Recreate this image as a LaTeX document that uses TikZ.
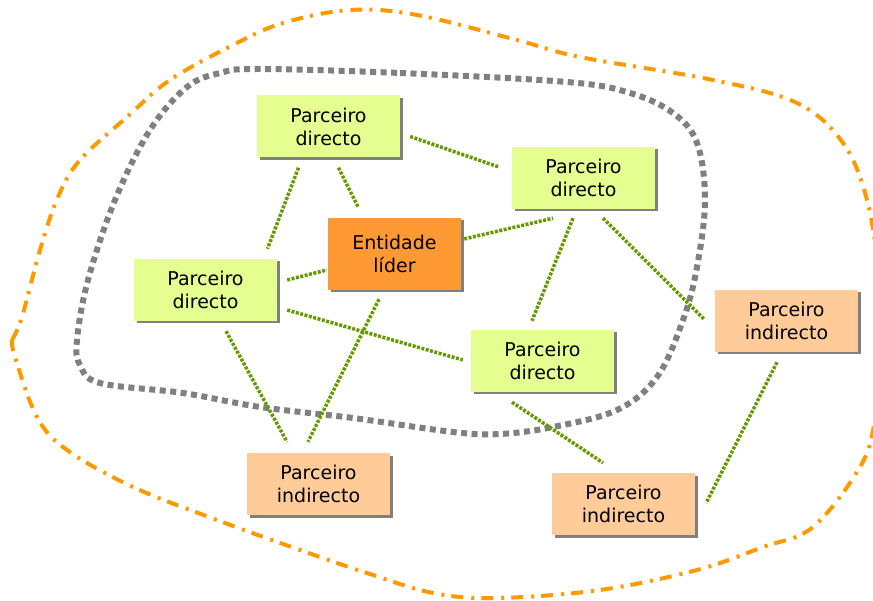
\documentclass[tikz,border=0pt]{standalone}
\usepackage{fontspec}
\setsansfont{DejaVu Sans}
\usetikzlibrary{shadows}
\definecolor{directfill}{RGB}{228,255,143}
\definecolor{indirectfill}{RGB}{255,204,153}
\definecolor{leaderfill}{RGB}{255,153,51}
\definecolor{shadowgray}{RGB}{128,128,128}
\definecolor{linkgreen}{RGB}{102,153,0}
\definecolor{coregray}{RGB}{128,128,128}
\definecolor{reachorange}{RGB}{255,153,0}
\tikzset{%
  partner/.style  = {shape=rectangle, align=center, inner sep=0pt,%
                     minimum width=143pt, minimum height=62pt,%
                     font=\sffamily\fontsize{19}{23}\selectfont,%
                     drop shadow={shadow xshift=2.5pt, shadow yshift=-2.5pt,%
                                  fill=shadowgray, opacity=1}},%
  direct/.style   = {partner, fill=directfill},%
  indirect/.style = {partner, fill=indirectfill},%
  leader/.style   = {partner, fill=leaderfill,%
                     minimum width=133pt, minimum height=72pt}%
}
\begin{document}
\begin{tikzpicture}[x=1pt, y=-1pt,
	link/.style  = {draw=linkgreen, line width=3.5pt, dash pattern=on 3pt off 1.5pt},
	core/.style  = {draw=coregray, line width=6pt, dash pattern=on 6pt off 4.5pt},
	reach/.style = {draw=reachorange, line width=4pt,
	                dash pattern=on 12pt off 7pt on 3pt off 8pt}]%
	\useasboundingbox (0,0) rectangle (873,601);
	% outer and inner circles
	\begin{scope}
	\clip (0,0) rectangle (873,601);
	\draw[reach] plot[smooth, tension=0.6] coordinates {%
		(12,340) (22,317) (40,250) (58,197) (80,160) (127,117) (170,80)
		(233,45) (283,23) (350,10) (417,15) (517,40) (580,57) (713,80)
		(797,103) (843,143) (867,200) (880,280) (884,340) (875,420)
		(860,467) (813,527) (763,547) (697,570) (600,590) (497,598)
		(433,593) (367,573) (300,550) (217,520) (133,487) (67,450)
		(37,417) (15,357) (12,340)};
	\end{scope}
	\draw[core] plot[smooth cycle, tension=0.6] coordinates {%
		(258,69) (400,73) (567,82) (630,93) (673,113) (697,143) (705,200)
		(697,267) (683,320) (657,377) (617,410) (553,427) (500,434)
		(453,432) (353,418) (260,407) (183,393) (100,383) (80,365)
		(77,340) (88,280) (115,200) (150,130) (187,87) (220,73)};
	% partners
	\node (ldr) at (394.5,254)   [leader]   {Entidade\\líder};
	\node (d1)  at (328.5,126.5) [direct]   {Parceiro\\directo};
	\node (d2)  at (583.5,178)   [direct]   {Parceiro\\directo};
	\node (d3)  at (205.5,290)   [direct]   {Parceiro\\directo};
	\node (d4)  at (542.5,361)   [direct]   {Parceiro\\directo};
	\node (i1)  at (786.5,321)   [indirect] {Parceiro\\indirecto};
	\node (i2)  at (318.5,484)   [indirect] {Parceiro\\indirecto};
	\node (i3)  at (623.5,504)   [indirect] {Parceiro\\indirecto};
	% links
	\draw[link] ([shift={(10,10)}]d1.east)     -- ([shift={(-13,-11)}]d2.west);
	\draw[link] ([shift={(-30,10)}]d1.south)   -- ([shift={(62,-10)}]d3.north);
	\draw[link] ([shift={(10,10)}]d1.south)    -- ([shift={(-36,-10)}]ldr.north);
	\draw[link] ([shift={(3,-15)}]ldr.east)    -- ([shift={(-30.5,9)}]d2.south);
	\draw[link] ([shift={(10,-10)}]d3.east)    -- ([shift={(-1,16)}]ldr.west);
	\draw[link] ([shift={(10,20)}]d3.east)     -- ([shift={(-8,-1)}]d4.west);
	\draw[link] ([shift={(-15.5,9)}]ldr.south) -- ([shift={(-10.5,-11)}]i2.north);
	\draw[link] ([shift={(20.5,10)}]d3.south)  -- ([shift={(-31.5,-11)}]i2.north);
	\draw[link] ([shift={(-10.5,9)}]d2.south)  -- ([shift={(-10.5,-9)}]d4.north);
	\draw[link] ([shift={(19.5,9)}]d2.south)   -- ([shift={(-10,-1)}]i1.west);
	\draw[link] ([shift={(-30.5,10)}]d4.south) -- ([shift={(-20.5,-10)}]i3.north);
	\draw[link] ([shift={(-9.5,10)}]i1.south)  -- ([shift={(11,-1)}]i3.east);
\end{tikzpicture}
\end{document}
